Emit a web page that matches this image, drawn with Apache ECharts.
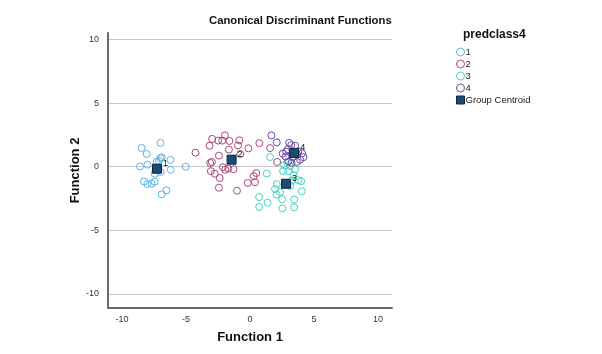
<!DOCTYPE html>
<html>
<head>
<meta charset="utf-8">
<title>Canonical Discriminant Functions</title>
<script src="https://cdn.jsdelivr.net/npm/echarts@6/dist/echarts.min.js"></script>
<style>
    html,body{margin:0;padding:0;background:#fff;}
    #main{width:602px;height:354px;}
</style>
</head>
<body>
<div id="main"></div>
<script>
//各组的判别得分 [Function 1, Function 2]
var group1 = [[-8.47,1.47],[-7.0,1.87],[-8.08,1.0],[-6.9,0.73],[-7.0,0.65],[-6.22,0.53],[-7.29,0.39],[-7.11,0.45],
    [-8.6,0.02],[-8.02,0.16],[-5.02,0.0],[-6.2,-0.24],[-6.98,-0.42],[-7.45,-0.55],[-8.29,-1.16],[-8.02,-1.37],
    [-7.69,-1.34],[-7.45,-1.18],[-6.53,-1.86],[-6.9,-2.17]];
var group2 = [[-4.26,1.10],[-2.96,2.18],[-2.49,2.05],[-2.17,2.05],[-1.96,2.46],[-1.61,2.02],[-0.84,2.07],[-3.16,1.65],
    [-0.94,1.67],[0.73,1.85],[-1.65,1.34],[-0.12,1.44],[-0.76,1.0],[-2.43,0.87],[-3.11,0.29],[-2.98,0.37],
    [-2.12,-0.04],[-1.94,-0.24],[-1.70,-0.14],[-1.29,-0.20],[-3.06,-0.35],[-2.75,-0.55],[-2.37,-0.89],[0.29,-0.75],
    [0.49,-0.50],[-0.18,-1.28],[0.39,-1.22],[-2.43,-1.65],[-1.02,-1.89],[1.57,1.46],[2.12,0.37]];
var group3 = [[1.57,0.76],[1.31,-0.54],[2.59,-0.34],[2.98,-0.35],[3.41,-0.67],[3.79,-1.06],[4.0,-1.14],[3.27,-1.10],
    [3.14,-1.50],[2.09,-1.38],[1.96,-1.76],[2.35,-2.01],[2.08,-2.20],[2.51,-2.56],[3.45,-2.58],[4.05,-1.93],
    [0.71,-2.39],[1.37,-2.83],[0.72,-3.17],[2.53,-3.27],[3.45,-3.19],[2.67,0.12],[3.14,0.04],[3.53,-0.20],[2.90,0.31]];
var group4 = [[1.67,2.46],[2.09,1.91],[2.56,1.02],[3.06,1.87],[3.22,1.69],[2.96,1.38],[2.82,1.18],[3.79,1.20],
    [4.08,1.06],[3.92,0.55],[3.66,0.37],[3.0,0.42],[3.35,0.76],[2.78,0.79],[4.18,0.75],[3.69,0.94],[3.25,0.31],[3.53,1.65]];
//组重心
var centroids = [[-7.27,-0.16],[-1.44,0.55],[2.82,-1.34],[3.45,1.08]];
var centroidLabels = ["1","2","3","4"];
//刻度
var xTicks = [-10,-5,0,5,10];
var yTicks = [-10,-5,0,5,10];

var groupNames = ["1","2","3","4"];
var groupColors = ["#5bb6e6","#a8487a","#45d2c6","#6a4aa3"];

var myChart = echarts.init(document.getElementById("main"));

//空心圆散点（透明填充+细边框）
function groupSeries(name, data, color) {
    return {
        name: name,
        type: "scatter",
        data: data,
        symbol: "circle",
        symbolSize: 7,
        itemStyle: {color: "rgba(255,255,255,0)", borderColor: color, borderWidth: 1, opacity: 1},
        emphasis: {disabled: true},
        z: 2
    };
}

var centroidData = [];
for (var i = 0; i < centroids.length; i++) {
    centroidData.push({value: centroids[i], label: {formatter: centroidLabels[i]}});
}

var option = {
    animation: false,
    backgroundColor: "#fff",
    title: {
        text: "Canonical Discriminant Functions",
        left: 204,
        top: 10,
        textStyle: {fontFamily: "Arial, Liberation Sans", fontSize: 11.3, fontWeight: "bold", color: "#111"}
    },
    graphic: [{
        type: "text",
        left: 463,
        top: 29,
        style: {text: "predclass4", font: "bold 12px Arial, 'Liberation Sans'", fill: "#111"}
    }],
    legend: {
        orient: "vertical",
        left: 451,
        top: 41,
        itemWidth: 8,
        itemHeight: 8,
        itemGap: 0,
        itemStyle: {borderWidth: 1},
        textStyle: {fontFamily: "Arial, Liberation Sans", fontSize: 9.5, lineHeight: 12, color: "#222", padding: [0,0,0,-4]},
        data: ["1","2","3","4",{name: "Group Centroid", icon: "rect"}]
    },
    grid: {left: 108, right: 210, top: 33, bottom: 46},
    xAxis: {
        type: "value",
        min: -11.1,
        max: 11.1,
        name: "Function 1",
        nameLocation: "middle",
        nameGap: 23,
        nameTextStyle: {fontFamily: "Arial, Liberation Sans", fontSize: 13, fontWeight: "bold", color: "#111"},
        axisLine: {onZero: false, lineStyle: {color: "#6a6a6a", width: 2}},
        axisTick: {show: false, customValues: xTicks},
        axisLabel: {customValues: xTicks, fontSize: 9, color: "#333", margin: 7},
        splitLine: {show: false}
    },
    yAxis: {
        type: "value",
        min: -11.1,
        max: 10.5,
        name: "Function 2",
        nameLocation: "middle",
        nameGap: 20,
        nameTextStyle: {fontFamily: "Arial, Liberation Sans", fontSize: 13, fontWeight: "bold", color: "#111"},
        axisLine: {show: true, onZero: false, lineStyle: {color: "#6a6a6a", width: 2}},
        axisTick: {show: false, customValues: yTicks},
        axisLabel: {customValues: yTicks, fontSize: 9, color: "#333", margin: 9},
        splitLine: {show: true, lineStyle: {color: "#c8c8c8", width: 1}}
    },
    series: [
        groupSeries(groupNames[0], group1, groupColors[0]),
        groupSeries(groupNames[1], group2, groupColors[1]),
        groupSeries(groupNames[2], group3, groupColors[2]),
        groupSeries(groupNames[3], group4, groupColors[3]),
        {
            name: "Group Centroid",
            type: "scatter",
            data: centroidData,
            symbol: "rect",
            symbolSize: 9,
            itemStyle: {color: "#1b4a72", borderColor: "#0b2440", borderWidth: 1, opacity: 1},
            label: {show: true, position: "right", distance: 1, offset: [0,-5], fontSize: 9, color: "#111"},
            emphasis: {disabled: true},
            z: 5
        }
    ]
};

myChart.setOption(option);
</script>
</body>
</html>
